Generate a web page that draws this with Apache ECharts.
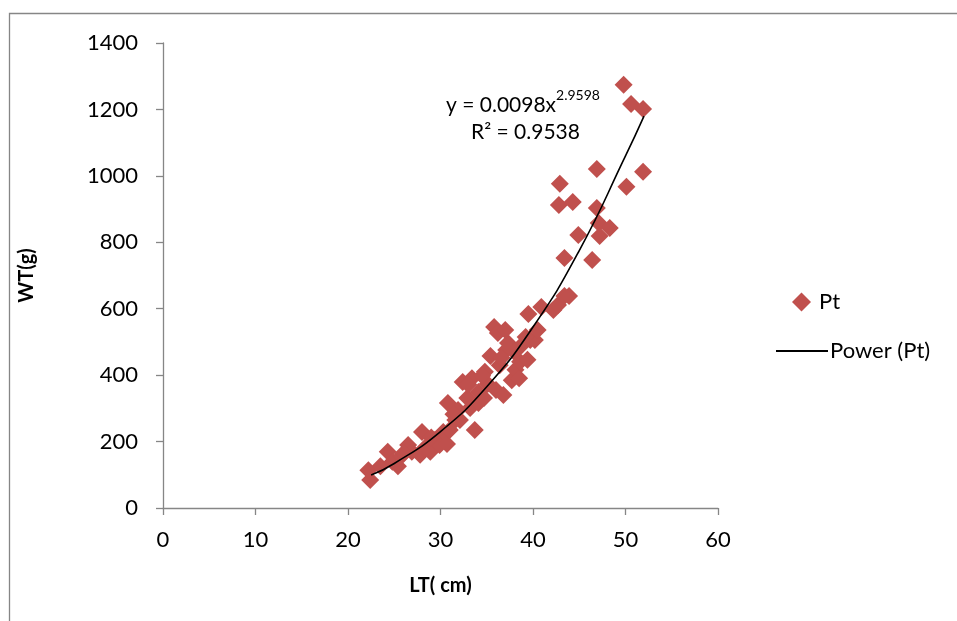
<!DOCTYPE html>
<html>
<head>
<meta charset="utf-8">
<title>WT vs LT</title>
<style>
  html, body { margin: 0; padding: 0; background: #fff; }
  #chart { width: 957px; height: 621px; }
</style>
</head>
<body>
<div id="chart"></div>
<script src="https://cdn.jsdelivr.net/npm/echarts@6/dist/echarts.min.js"></script>
<script>
// LT (cm) values of the Pt points
const ptLength = [
  22.4, 22.2, 23.5, 24.3, 24.8, 25.4, 25.8, 26.5, 26.9, 27.8,
  28.3, 28.0, 28.9, 29.4, 29.9, 30.3, 30.7, 31.0, 30.8, 31.6,
  32.1, 31.9, 32.4, 32.9, 33.2, 33.4, 33.7, 34.1, 34.1, 34.8,
  34.7, 35.1, 35.4, 35.8, 36.2, 36.0, 36.4, 36.8, 37.1, 37.3,
  37.0, 37.7, 38.1, 38.5, 38.6, 38.8, 39.4, 39.7, 39.5, 40.2,
  40.5, 40.9, 42.2, 42.7, 43.4, 43.9, 42.9, 42.8, 44.3, 44.9,
  46.9, 47.1, 48.3, 47.2, 43.4, 46.4, 46.9, 50.1, 51.9, 49.8,
  50.6, 51.9, 33.0, 34.5, 36.6, 38.0, 39.2, 26.0, 29.0, 31.4
];
// WT (g) values of the Pt points
const ptWeight = [
  84, 114, 126, 169, 139, 126, 157, 190, 169, 160,
  181, 229, 169, 205, 190, 229, 193, 235, 316, 265,
  265, 295, 379, 331, 301, 391, 235, 349, 316, 410,
  331, 373, 458, 545, 527, 355, 430, 340, 476, 497,
  536, 385, 416, 391, 440, 491, 446, 506, 584, 506,
  536, 605, 596, 611, 638, 638, 976, 912, 921, 822,
  903, 858, 843, 819, 753, 747, 1021, 967, 1012, 1274,
  1216, 1201, 372, 398, 452, 470, 515, 165, 212, 282
];
// power trend line
const trendLength = [22.5, 25, 30, 35, 40, 45, 50, 52];
const trendWeight = [99, 134, 230, 365, 545, 775, 1060, 1180];

const xTicks = [0, 10, 20, 30, 40, 50, 60];
const yTicks = [0, 200, 400, 600, 800, 1000, 1200, 1400];

const font = 'Lato, "Open Sans", sans-serif';
const axisGray = '#868686';

let chart = echarts.init(document.getElementById('chart'));
let options = {
  animation: false,
  backgroundColor: '#fff',
  textStyle: { fontFamily: font },
  grid: { left: 163, right: 239, top: 43, bottom: 113 },
  legend: [
    {
      data: ['Pt'],
      left: 787, top: 286,
      icon: 'diamond', itemWidth: 19, itemHeight: 19, itemGap: 10,
      textStyle: { fontSize: 22, color: '#000', fontFamily: font, padding: [0, 0, 0, 3] }
    },
    {
      data: ['Power (Pt)'],
      left: 771, top: 335,
      icon: 'rect', itemWidth: 52, itemHeight: 2, itemGap: 6,
      textStyle: { fontSize: 22, color: '#000', fontFamily: font, padding: [0, 0, 0, -3] }
    }
  ],
  xAxis: {
    type: 'value',
    min: xTicks[0], max: xTicks[xTicks.length - 1], interval: 10,
    name: 'LT( cm)', nameLocation: 'middle', nameGap: 68,
    nameTextStyle: { fontSize: 20, fontWeight: 'bold', color: '#000', fontFamily: font },
    axisLine: { lineStyle: { color: axisGray, width: 1.3 } },
    axisTick: { show: true, length: 7, lineStyle: { color: axisGray, width: 1.3 } },
    axisLabel: { fontSize: 22, color: '#000', margin: 21, fontFamily: font },
    splitLine: { show: false }
  },
  yAxis: {
    type: 'value',
    min: yTicks[0], max: yTicks[yTicks.length - 1], interval: 200,
    name: 'WT(g)', nameLocation: 'middle', nameGap: 126, nameRotate: 90,
    nameTextStyle: { fontSize: 20, fontWeight: 'bold', color: '#000', fontFamily: font },
    axisLine: { show: true, lineStyle: { color: axisGray, width: 1.3 } },
    axisTick: { show: true, length: 7, lineStyle: { color: axisGray, width: 1.3 } },
    axisLabel: { fontSize: 22, color: '#000', margin: 25, fontFamily: font, formatter: v => String(v) },
    splitLine: { show: false }
  },
  series: [
    {
      name: 'Pt',
      type: 'scatter',
      symbol: 'diamond',
      symbolSize: 18,
      itemStyle: { color: '#C0504D', opacity: 1 },
      data: ptLength.map((x, i) => [x, ptWeight[i]]),
      z: 2
    },
    {
      name: 'Power (Pt)',
      type: 'line',
      smooth: true,
      symbol: 'none',
      lineStyle: { color: '#000', width: 1.6 },
      itemStyle: { color: '#000' },
      data: trendLength.map((x, i) => [x, trendWeight[i]]),
      z: 3
    }
  ],
  graphic: [
    {
      type: 'rect', silent: true, z: -1,
      shape: { x: 9.5, y: 13.5, width: 1000, height: 700 },
      style: { fill: 'none', stroke: axisGray, lineWidth: 1.3 }
    },
    {
      type: 'text', left: 446, top: 88, z: 10,
      style: {
        text: '{b|y = 0.0098x}{s|2.9598}',
        rich: {
          b: { fontSize: 21, fontFamily: font, fill: '#000', verticalAlign: 'bottom', lineHeight: 28 },
          s: { fontSize: 14, fontFamily: font, fill: '#000', verticalAlign: 'top', padding: [0, 0, 12, 0] }
        }
      }
    },
    {
      type: 'text', left: 471, top: 122, z: 10,
      style: { text: 'R² = 0.9538', fontSize: 21, fontFamily: font, fill: '#000' }
    }
  ]
};
chart.setOption(options);
</script>
</body>
</html>
